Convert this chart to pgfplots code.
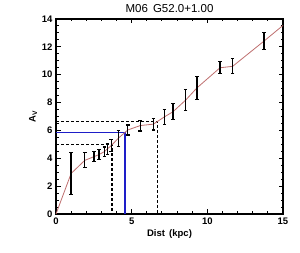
\documentclass[border=0pt]{standalone}
\usepackage{pgfplots}
\pgfplotsset{compat=1.18}
\usepackage{fontspec}
\setmainfont{Liberation Sans}
\definecolor{linered}{RGB}{190,110,110}
\definecolor{lineblue}{RGB}{30,30,200}
\begin{document}
\begin{tikzpicture}[x=1pt,y=1pt]
\path[use as bounding box] (0,0) rectangle (300,253);
\begin{axis}[
  at={(56pt,39pt)}, anchor=south west,
  scale only axis, width=227pt, height=195pt,
  xmin=0, xmax=15, ymin=0, ymax=14,
  xtick={0,5,10,15}, ytick={0,2,...,14},
  minor x tick num=4, minor y tick num=3,
  tick align=inside, tick pos=both,
  major tick length=4.5pt, minor tick length=2.5pt,
  axis line style={line width=1.5pt},
  every tick/.style={black, line width=1pt},
  tick label style={font=\fontsize{9.5}{10}\selectfont\bfseries},
  /pgf/number format/assume math mode=true,
  xlabel={\bfseries Dist\, (kpc)}, ylabel={\bfseries A$_\mathbf{V}$},
  label style={font=\fontsize{9.5}{10}\selectfont},
  xlabel style={yshift=2pt}, ylabel style={yshift=-2pt},
  title={M06\, G52.0+1.00}, title style={font=\fontsize{11.5}{12}\selectfont, yshift=-3pt},
  clip=false,
]
\addplot[black, dashed, dash pattern=on 3pt off 2pt, line width=1.1pt] coordinates {(0,5.0) (3.7,5.0) (3.7,0)};
\addplot[black, dashed, dash pattern=on 3pt off 2pt, line width=1.1pt] coordinates {(0,6.64) (6.72,6.64) (6.72,0)};
\addplot[lineblue, line width=1.7pt] coordinates {(0,5.85) (4.54,5.85) (4.54,0)};
\addplot[linered, line width=0.8pt] coordinates {
(0,0) (1.0,2.91) (1.9,3.85) (2.5,4.11) (2.85,4.27) (3.2,4.48) (3.4,4.68) (3.65,4.91)
(4.12,5.44) (4.74,6.03) (5.57,6.35) (6.43,6.45) (7.16,6.97) (7.73,7.34) (8.57,8.18)
(9.32,9.06) (10.84,10.5) (11.67,10.6) (13.74,12.41) (15,13.54)};
\addplot[draw=none, mark=none, black,
  error bars/.cd, y dir=both, y explicit,
  error bar style={black, line width=1.35pt},
  error mark options={black, mark size=1.8pt, line width=1.1pt, rotate=90}]
  table[x=x, y=y, y error=e] {
x y e
1.0 2.91 1.48
1.9 3.85 0.54
2.5 4.11 0.36
2.85 4.27 0.34
3.2 4.48 0.33
3.4 4.68 0.39
3.65 4.91 0.44
4.12 5.44 0.57
4.74 6.03 0.36
5.57 6.35 0.39
6.43 6.45 0.42
7.16 6.97 0.56
7.73 7.34 0.57
8.57 8.18 0.74
9.32 9.06 0.82
10.84 10.5 0.42
11.67 10.6 0.54
13.74 12.41 0.62
};
\end{axis}
\end{tikzpicture}
\end{document}
